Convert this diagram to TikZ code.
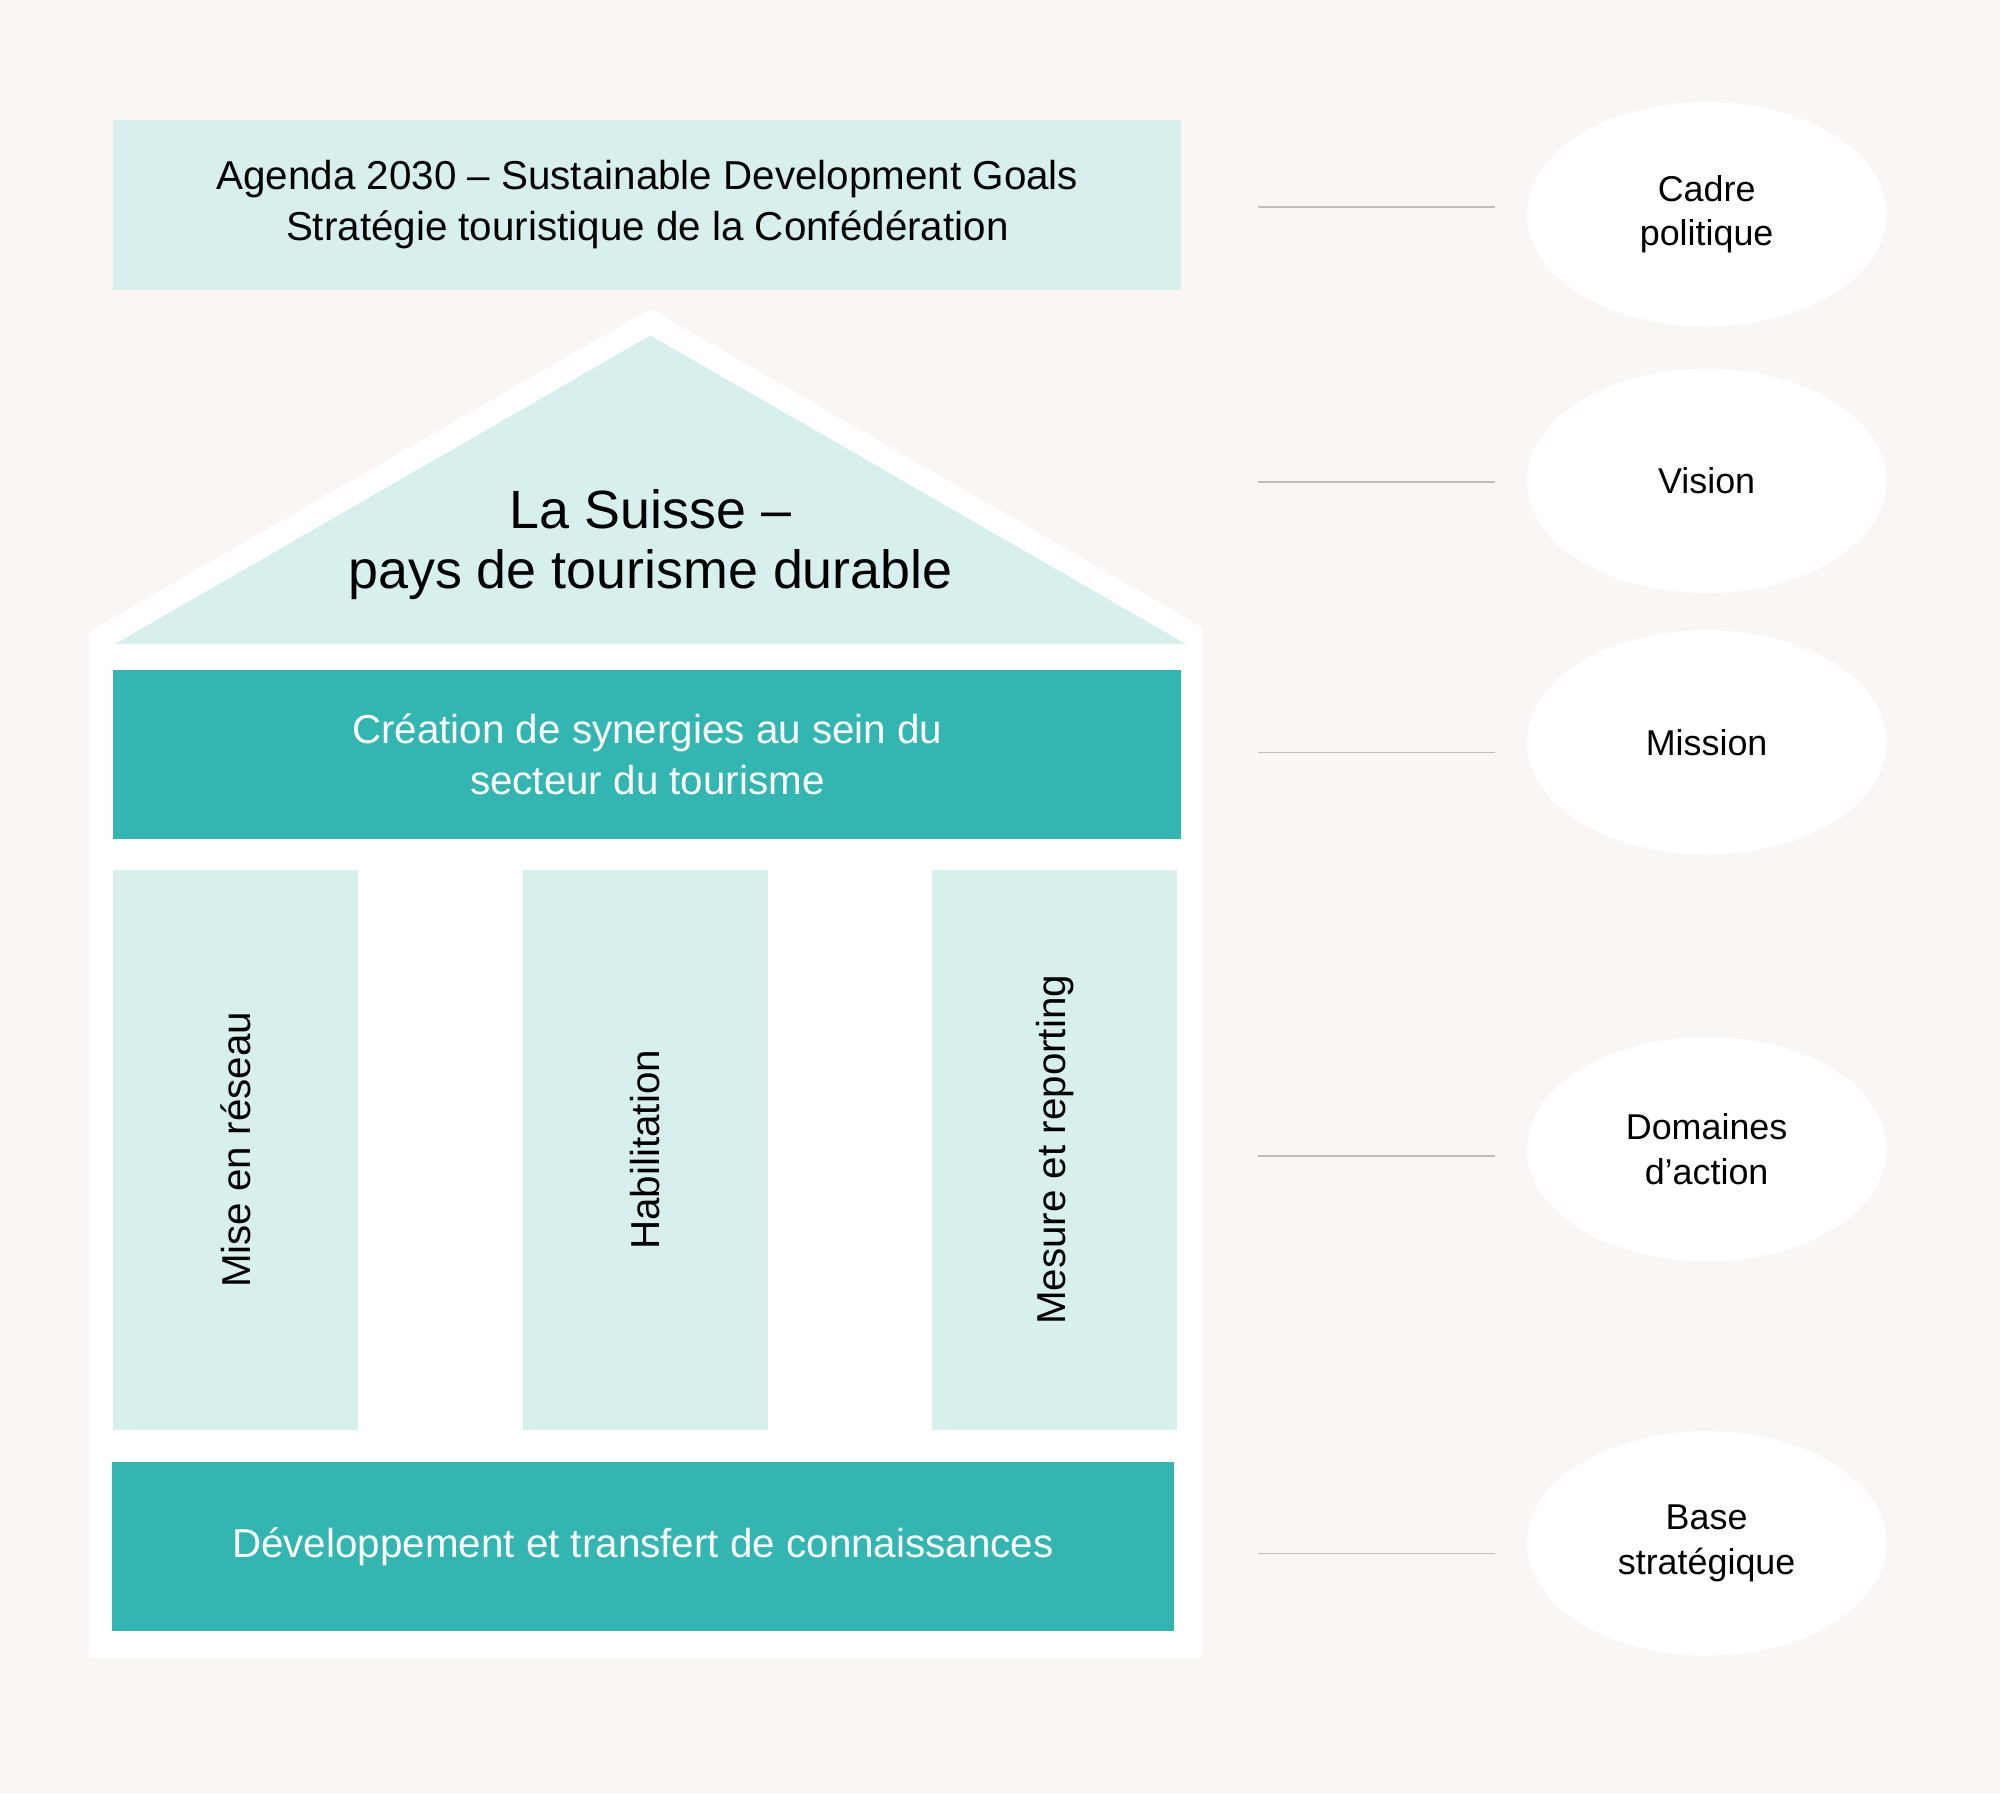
\documentclass[tikz,border=0pt]{standalone}
\usepackage{fontspec}
\setmainfont{Liberation Sans}
\usetikzlibrary{shapes.geometric}
\definecolor{bg_beige}{RGB}{249,246,243}
\definecolor{box_light}{RGB}{215,239,237}
\definecolor{box_teal}{RGB}{51,181,177}
\definecolor{line_gray}{RGB}{190,190,190}

\begin{document}
\begin{tikzpicture}[x=0.01cm,y=-0.01cm]
    \tikzstyle{lightbox}=[fill=box_light, draw=none, inner sep=0pt, align=center, font=\fontsize{9}{11.5}\selectfont]
    \tikzstyle{tealbox}=[fill=box_teal, draw=none, inner sep=0pt, align=center, text=white, font=\fontsize{9}{11.5}\selectfont]
    \tikzstyle{pillar}=[fill=box_light, draw=none, inner sep=0pt, minimum width=1.92cm, minimum height=4.39cm, font=\fontsize{9}{11}\selectfont]
    \tikzstyle{level}=[ellipse, fill=white, draw=none, inner sep=0pt, minimum width=2.82cm, minimum height=1.76cm, align=center, font=\fontsize{8}{10}\selectfont]
    \tikzstyle{link}=[draw=line_gray, line width=0.4pt]

    \fill[bg_beige] (0,0) rectangle (1568,1406);
    \useasboundingbox (0,0) rectangle (1568,1406);

    % house
    \fill[white] (70,1300) -- (943,1300) -- (943,492) -- (510,242) -- (70,495) -- cycle;
    \fill[box_light] (90,505) -- (510,263) -- (930,505) -- cycle;
    \node[font=\fontsize{12}{13.5}\selectfont, align=center] (vision) at (510,427) {La Suisse –\\pays de tourisme durable};

    \node[lightbox, minimum width=8.37cm, minimum height=1.33cm] (agenda) at (507.5,160.5)
        {Agenda 2030 – Sustainable Development Goals\\Stratégie touristique de la Confédération};
    \node[tealbox, minimum width=8.37cm, minimum height=1.33cm] (mission) at (507.5,591.5)
        {Création de synergies au sein du\\secteur du tourisme};
    \node[pillar] (p1) at (185,901.5) {\rotatebox{90}{Mise en réseau}};
    \node[pillar] (p2) at (506,901.5) {\rotatebox{90}{Habilitation}};
    \node[pillar] (p3) at (827,901.5) {\rotatebox{90}{Mesure et reporting}};
    \node[tealbox, minimum width=8.32cm, minimum height=1.33cm] (base) at (504,1212.5)
        {Développement et transfert de connaissances};

    % levels
    \node[level] (l1) at (1338,168)  {Cadre\\politique};
    \node[level] (l2) at (1338,377)  {Vision};
    \node[level] (l3) at (1338,582)  {Mission};
    \node[level] (l4) at (1338,901)  {Domaines\\d’action};
    \node[level] (l5) at (1338,1210) {Base\\stratégique};

    \foreach \y/\n in {162/1,378/2,590/3,906/4,1218/5} {
        \coordinate (a\n) at (986,\y);
        \coordinate (b\n) at (1172,\y);
        \draw[link] (a\n) -- (b\n);
    }
\end{tikzpicture}
\end{document}
